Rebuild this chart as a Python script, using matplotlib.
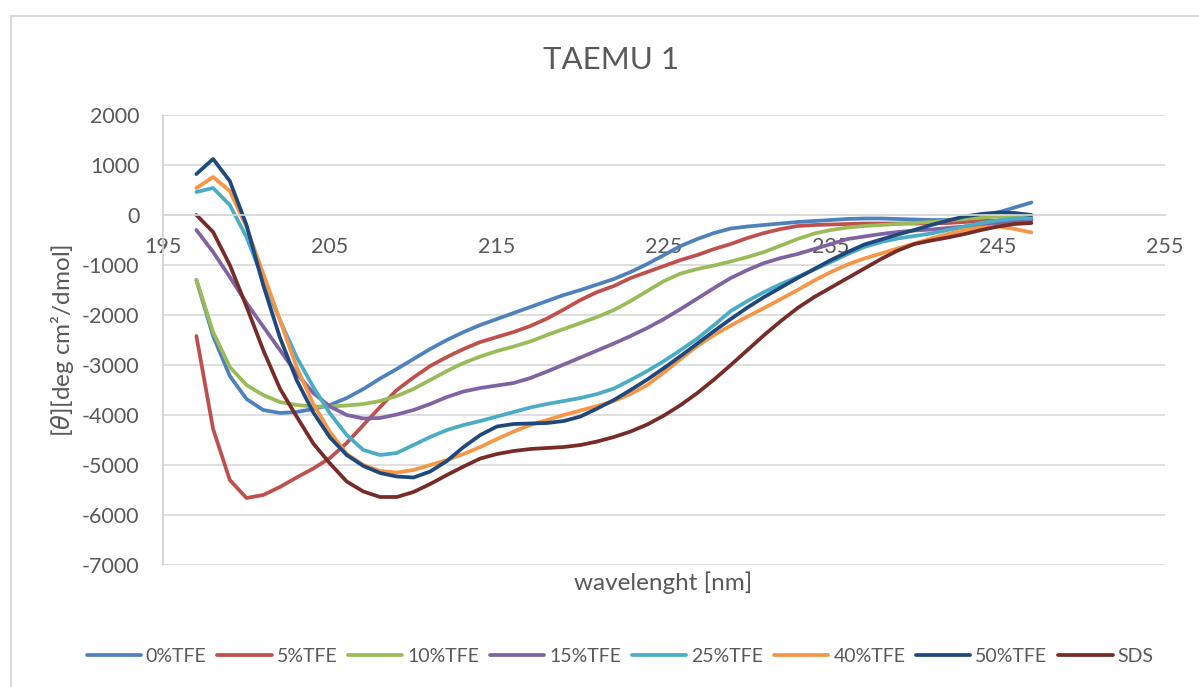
import matplotlib
matplotlib.use("Agg")
import matplotlib.pyplot as plt
from matplotlib.patches import Rectangle

wavelength = list(range(197, 248))

tfe0 = [-1300, -2420, -3220, -3680, -3900, -3960, -3940, -3880, -3800, -3660,
        -3480, -3270, -3080, -2880, -2680, -2500, -2340, -2200, -2080, -1960,
        -1840, -1720, -1600, -1500, -1390, -1280, -1140, -980, -800, -620,
        -480, -360, -270, -230, -200, -170, -140, -120, -100, -80,
        -70, -70, -80, -90, -100, -100, -80, -20, 50, 150, 250]

tfe5 = [-2420, -4280, -5300, -5660, -5600, -5440, -5250, -5070, -4860, -4560,
        -4200, -3840, -3500, -3250, -3020, -2840, -2680, -2540, -2440, -2340,
        -2220, -2070, -1890, -1700, -1540, -1420, -1260, -1140, -1020, -900,
        -800, -680, -580, -460, -360, -280, -220, -200, -190, -180,
        -170, -170, -170, -170, -170, -160, -140, -120, -110, -100, -100]

tfe10 = [-1300, -2340, -3040, -3400, -3600, -3740, -3800, -3830, -3830, -3810,
         -3780, -3720, -3620, -3480, -3300, -3120, -2960, -2830, -2720, -2630,
         -2530, -2400, -2280, -2160, -2040, -1900, -1720, -1520, -1320, -1170,
         -1080, -1010, -930, -840, -740, -610, -480, -370, -300, -250,
         -220, -200, -180, -160, -140, -110, -80, -50, -30, -30, -40]

tfe15 = [-300, -740, -1240, -1760, -2230, -2700, -3170, -3560, -3830, -4000,
         -4070, -4060, -3990, -3900, -3780, -3640, -3530, -3460, -3410, -3360,
         -3260, -3130, -2990, -2850, -2710, -2570, -2420, -2260, -2080, -1880,
         -1670, -1460, -1260, -1100, -960, -860, -780, -680, -580, -480,
         -430, -380, -340, -310, -290, -260, -230, -200, -160, -130, -100]

tfe25 = [460, 540, 200, -440, -1300, -2100, -2840, -3440, -3970, -4400,
         -4700, -4800, -4760, -4600, -4440, -4300, -4200, -4120, -4030, -3940,
         -3850, -3780, -3720, -3660, -3580, -3470, -3300, -3120, -2920, -2700,
         -2470, -2200, -1920, -1720, -1540, -1380, -1240, -1090, -940, -780,
         -640, -540, -470, -420, -370, -300, -230, -160, -110, -70, -60]

tfe40 = [540, 760, 480, -240, -1170, -2100, -3040, -3780, -4340, -4780,
         -5000, -5120, -5150, -5100, -5000, -4900, -4780, -4640, -4480, -4330,
         -4200, -4100, -4000, -3910, -3820, -3720, -3580, -3400, -3150, -2880,
         -2620, -2400, -2210, -2030, -1860, -1680, -1500, -1310, -1140, -990,
         -870, -770, -670, -570, -470, -380, -300, -250, -230, -280, -350]

tfe50 = [820, 1120, 680, -200, -1400, -2450, -3300, -3950, -4450, -4800,
         -5020, -5160, -5230, -5250, -5130, -4920, -4640, -4400, -4230, -4180,
         -4170, -4160, -4120, -4030, -3870, -3700, -3500, -3290, -3060, -2820,
         -2570, -2320, -2080, -1850, -1640, -1450, -1260, -1080, -900, -740,
         -590, -490, -390, -300, -200, -110, -30, 20, 50, 40, 0]

sds = [0, -340, -1000, -1830, -2700, -3470, -4030, -4570, -4970, -5330,
       -5530, -5640, -5640, -5540, -5380, -5200, -5030, -4870, -4780, -4720,
       -4680, -4660, -4640, -4600, -4530, -4440, -4330, -4190, -4010, -3800,
       -3560, -3290, -3000, -2700, -2400, -2120, -1860, -1640, -1450, -1260,
       -1070, -880, -710, -580, -510, -450, -380, -300, -230, -180, -160]

series_names = ["0%TFE", "5%TFE", "10%TFE", "15%TFE", "25%TFE", "40%TFE", "50%TFE", "SDS"]
series_values = [tfe0, tfe5, tfe10, tfe15, tfe25, tfe40, tfe50, sds]
colors = ["#4F81BD", "#C0504D", "#9BBB59", "#8064A2", "#4BACC6", "#F79646", "#1F497D", "#772C2A"]

x_ticks = [195, 205, 215, 225, 235, 245, 255]
y_ticks = [2000, 1000, 0, -1000, -2000, -3000, -4000, -5000, -6000, -7000]

plt.rcParams['font.family'] = ['Lato', 'DejaVu Sans']
plt.rcParams['mathtext.fontset'] = 'dejavusans'
txt = "#595959"

W, H = 1199, 687
fig = plt.figure(figsize=(W / 100, H / 100), dpi=100)
ax = fig.add_axes([163 / W, 1 - 565 / H, (1165 - 163) / W, (565 - 115) / H])

for name, vals, c in zip(series_names, series_values, colors):
    ax.plot(wavelength, vals, color=c, lw=2.7, label=name, solid_capstyle='round',
            solid_joinstyle='round')

ax.set_xlim(195, 255)
ax.set_ylim(-7000, 2000)
ax.set_xticks(x_ticks)
ax.set_yticks(y_ticks)
ax.set_yticklabels([str(v) for v in y_ticks])
ax.set_xticklabels([str(v) for v in x_ticks])
ax.yaxis.grid(True, color="#D9D9D9", lw=1.2)
ax.set_axisbelow(True)
ax.spines['top'].set_visible(False)
ax.spines['right'].set_visible(False)
ax.spines['bottom'].set_position(('data', 0))
ax.spines['bottom'].set_color("#D9D9D9")
ax.spines['bottom'].set_linewidth(1.2)
ax.spines['left'].set_color("#D0D0D0")
ax.spines['left'].set_linewidth(1.2)
ax.tick_params(axis='x', length=0, pad=16, labelsize=15.5, labelcolor=txt)
ax.tick_params(axis='y', length=0, pad=17, labelsize=15.5, labelcolor=txt)

fig.text(611 / W, 1 - 60 / H, "TAEMU 1", ha='center', va='center', fontsize=22.5, color=txt)
fig.text(663 / W, 1 - 583 / H, "wavelenght [nm]", ha='center', va='center', fontsize=17.5, color=txt)
fig.text(62 / W, 1 - 340 / H, "[$\\mathit{\\theta}$][deg cm²/dmol]", ha='center', va='center',
         rotation=90, fontsize=17.5, color=txt)

leg = fig.legend(loc='center', bbox_to_anchor=(620 / W, 1 - 656 / H), ncol=8, frameon=False,
                 fontsize=14, handlelength=2.8, handletextpad=0.25, columnspacing=0.55,
                 labelcolor=txt)

fig.add_artist(Rectangle((11 / W, -0.1), 1.2, 1 - 16 / H + 0.1, transform=fig.transFigure,
                         fill=False, edgecolor="#D9D9D9", lw=1.5))

fig.savefig("out.png", dpi=100, facecolor="white")
